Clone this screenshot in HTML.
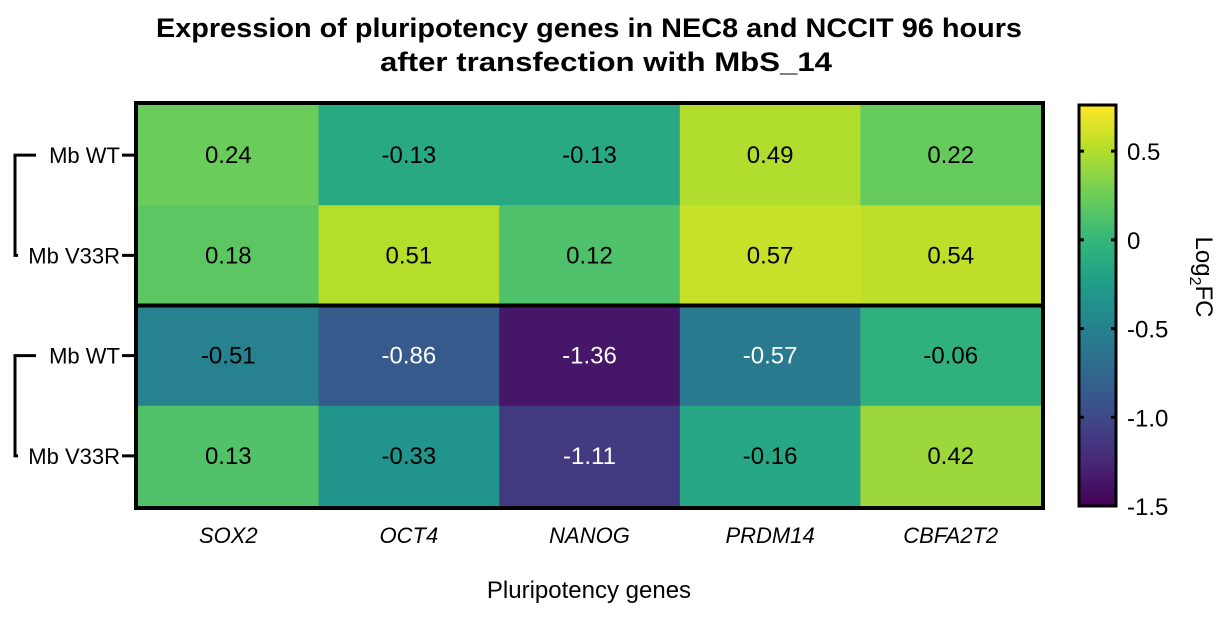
<!DOCTYPE html>
<html><head><meta charset="utf-8"><style>
body{margin:0;background:#fff;}
svg text{font-family:"Liberation Sans",Arial,sans-serif;}
</style></head><body>
<svg id="chart" width="1223" height="634" viewBox="0 0 1223 634" xmlns="http://www.w3.org/2000/svg">
<defs><linearGradient id="vg" x1="0" y1="1" x2="0" y2="0"></linearGradient></defs>
<text x="589" y="37" text-anchor="middle" font-size="27" font-weight="bold" textLength="866" lengthAdjust="spacingAndGlyphs">Expression of pluripotency genes in NEC8 and NCCIT 96 hours</text>
<text x="606" y="71" text-anchor="middle" font-size="27" font-weight="bold" textLength="452" lengthAdjust="spacingAndGlyphs">after transfection with MbS_14</text>
<g id="cells"></g>
<g id="labels"></g>
<text x="589" y="598" text-anchor="middle" font-size="24">Pluripotency genes</text>
<text transform="translate(1196,277) rotate(90)" text-anchor="middle" font-size="24">Log<tspan font-size="16" dy="6">2</tspan><tspan dy="-6">FC</tspan></text>
</svg>
<script>
const genes=["SOX2","OCT4","NANOG","PRDM14","CBFA2T2"];
const rowLabels=["Mb WT","Mb V33R","Mb WT","Mb V33R"];
const row0=[0.24,-0.13,-0.13,0.49,0.22];
const row1=[0.18,0.51,0.12,0.57,0.54];
const row2=[-0.51,-0.86,-1.36,-0.57,-0.06];
const row3=[0.13,-0.33,-1.11,-0.16,0.42];
const cbTicks=[0.5,0,-0.5,-1.0,-1.5];
const cbTickLabels=["0.5","0","-0.5","-1.0","-1.5"];
const vmin=-1.5,vmax=0.76;
const rows=[row0,row1,row2,row3];
const VIR=["#440154","#482878","#3e4989","#31688e","#26828e","#1f9e89","#35b779","#6ece58","#b5de2b","#fde725"];
function hex(h){return [1,3,5].map(i=>parseInt(h.substr(i,2),16));}
function viridis(t){t=Math.max(0,Math.min(1,t));const p=t*(VIR.length-1),i=Math.min(Math.floor(p),VIR.length-2),f=p-i;const a=hex(VIR[i]),b=hex(VIR[i+1]);return "rgb("+a.map((v,k)=>Math.round(v+(b[k]-v)*f)).join(",")+")";}
const X0=138,X1=1041,Y0=105,Y1=506;
const cw=(X1-X0)/genes.length,rh=(Y1-Y0)/rows.length;
const xC=i=>X0+cw*(i+0.5), yC=j=>Y0+rh*(j+0.5);
const CB0=1079,CB1=1116,CBT=105,CBB=506;
const cbY=v=>CBB-(v-vmin)/(vmax-vmin)*(CBB-CBT);
const NS="http://www.w3.org/2000/svg";
const svg=document.getElementById('chart'),cells=document.getElementById('cells'),lab=document.getElementById('labels');
function mk(t,a,p){const e=document.createElementNS(NS,t);for(const k in a)e.setAttribute(k,a[k]);(p||svg).appendChild(e);return e;}
rows.forEach((r,j)=>r.forEach((v,i)=>{
 const c=mk('rect',{x:X0+cw*i,y:Y0+rh*j,width:cw+0.5,height:rh+0.5,fill:viridis((v-vmin)/(vmax-vmin))},cells);
 
 
 const t=mk('text',{x:xC(i),y:yC(j)+8,'text-anchor':'middle','font-size':24,fill:v<-0.55?'#fff':'#000'},cells);
 t.textContent=v.toFixed(2);
 
 
}));
mk('rect',{x:X0-2,y:Y0-2,width:X1-X0+4,height:Y1-Y0+4,fill:'none',stroke:'#000','stroke-width':4});
mk('line',{x1:X0,x2:X1,y1:Y0+rh*2,y2:Y0+rh*2,stroke:'#000','stroke-width':4});
genes.forEach((g,i)=>{
 const t=mk('text',{x:xC(i),y:543,'text-anchor':'middle','font-size':22,'font-style':'italic'},lab);
 t.textContent=g;
 
 
});
rowLabels.forEach((l,j)=>{
 const y=yC(j);
 mk('line',{x1:122,x2:137,y1:y,y2:y,stroke:'#000','stroke-width':3},lab);
 const t=mk('text',{x:120,y:y+8,'text-anchor':'end','font-size':22},lab);
 t.textContent=l;
 
 
});
[0,2].forEach(j=>{
 const a=yC(j),b=yC(j+1);
 const p=mk('path',{d:`M36 ${a} H15 V${b} H18`,fill:'none',stroke:'#000','stroke-width':3},lab);
 
 
});
const g=document.getElementById('vg');
VIR.forEach((c,i)=>{mk('stop',{offset:(i/(VIR.length-1)),'stop-color':c},g);});
const cb=mk('rect',{x:CB0,y:CBT,width:CB1-CB0,height:CBB-CBT,fill:'url(#vg)',stroke:'#000','stroke-width':3});


cbTicks.forEach((v,i)=>{
 const y=cbY(v);
 mk('line',{x1:CB0,x2:CB0+5,y1:y,y2:y,stroke:'#000','stroke-width':3});
 mk('line',{x1:CB1-5,x2:CB1,y1:y,y2:y,stroke:'#000','stroke-width':3});
 const t=mk('text',{x:1127,y:y+9,'font-size':24});
 t.textContent=cbTickLabels[i];
 
 
});
</script>
</body></html>
